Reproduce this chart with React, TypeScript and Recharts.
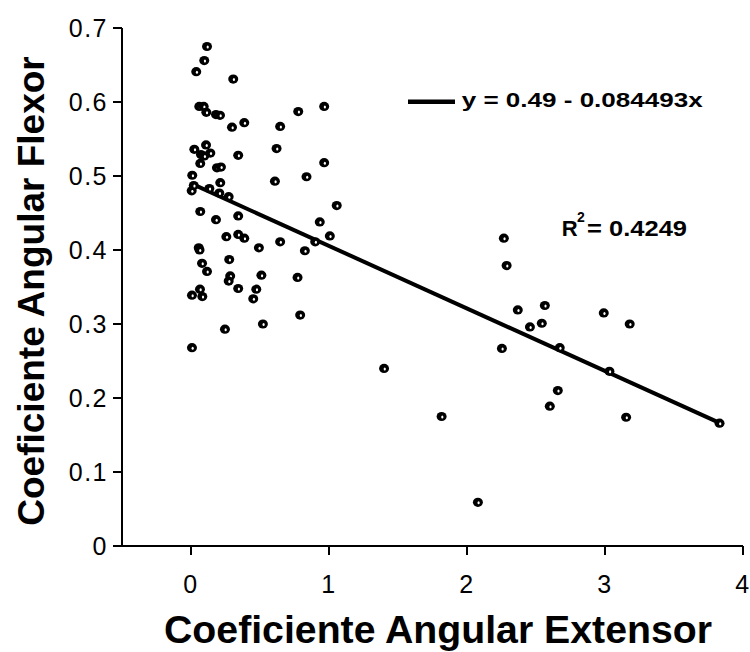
import React from 'react'
import { ScatterChart, Scatter, XAxis, YAxis, ReferenceLine } from 'recharts'

// Coeficiente angular extensor (x) / flexor (y)
const extensorX = [
  0.116, 0.096, 0.038, 0.306, 0.06, 0.092, 0.111, 0.181, 0.21, 0.297,
  0.386, 0.646, 0.777, 0.965, 0.024, 0.109, 0.072, 0.096, 0.14, 0.067,
  0.188, 0.217, 0.342, 0.62, 0.965, 0.009, 0.837, 0.608, 0.005, 0.02,
  0.133, 0.212, 0.205, 0.273, 1.056, 0.067, 0.342, 0.181, 0.933, 1.006,
  0.9, 0.256, 0.342, 0.386, 0.646, 0.492, 0.825, 0.056, 0.062, 0.08,
  0.277, 0.116, 0.284, 0.273, 0.51, 0.772, 0.065, 0.007, 0.082, 0.342,
  0.473, 0.451, 0.791, 0.521, 0.246, 0.007, 1.399, 1.816, 2.267, 2.287,
  2.368, 2.564, 2.456, 2.542, 2.991, 3.179, 2.253, 2.672, 3.032, 2.658,
  2.6, 3.153, 3.83, 2.079,
]
const flexorY = [
  0.675, 0.656, 0.641, 0.631, 0.594, 0.594, 0.586, 0.583, 0.582, 0.566,
  0.572, 0.567, 0.587, 0.594, 0.536, 0.542, 0.529, 0.527, 0.531, 0.517,
  0.511, 0.512, 0.528, 0.537, 0.518, 0.501, 0.499, 0.493, 0.48, 0.487,
  0.483, 0.491, 0.477, 0.472, 0.46, 0.452, 0.446, 0.441, 0.438, 0.419,
  0.411, 0.418, 0.421, 0.416, 0.411, 0.403, 0.399, 0.403, 0.4, 0.382,
  0.387, 0.371, 0.365, 0.358, 0.366, 0.363, 0.347, 0.339, 0.337, 0.348,
  0.347, 0.334, 0.312, 0.3, 0.293, 0.268, 0.24, 0.175, 0.416, 0.379,
  0.319, 0.325, 0.296, 0.301, 0.315, 0.3, 0.267, 0.268, 0.236, 0.21,
  0.189, 0.174, 0.166, 0.059,
]

const xTicks = [0, 1, 2, 3, 4]
const yTicks = [0, 0.1, 0.2, 0.3, 0.4, 0.5, 0.6, 0.7]

// fitted line, as printed on the chart
const INTERCEPT = 0.49
const SLOPE = -0.084493
const fitRange = [0, 3.83]

const points = extensorX.map((x, i) => ({ x, y: flexorY[i] }))

const font = '"Liberation Sans", Arial, sans-serif'

const Dot = (props: any) => {
  const { cx, cy } = props
  if (cx == null || cy == null) return null
  return (
    <g>
      <ellipse cx={cx} cy={cy} rx={5} ry={4.6} fill="#000" />
      <ellipse cx={cx + 0.7} cy={cy + 0.5} rx={1.1} ry={1.5} fill="#fff" />
    </g>
  )
}

const tickStyle = { fill: '#000', fontSize: 25, fontFamily: font, letterSpacing: 1.5 }

export default function App() {
  return (
    <div style={{ position: 'absolute', left: 0, top: 0, width: 750, height: 652, background: '#fff' }}>
      <ScatterChart
        width={750}
        height={652}
        margin={{ top: 28, right: 7, bottom: 66, left: 62 }}
      >
        <XAxis
          type="number"
          dataKey="x"
          domain={[-0.5, 4]}
          ticks={xTicks}
          allowDataOverflow
          height={40}
          tick={tickStyle}
          tickSize={9}
          tickMargin={20}
          axisLine={{ stroke: '#000', strokeWidth: 2 }}
          tickLine={{ stroke: '#000', strokeWidth: 2 }}
        />
        <YAxis
          type="number"
          dataKey="y"
          domain={[0, 0.7]}
          ticks={yTicks}
          allowDataOverflow
          width={60}
          tick={tickStyle}
          tickSize={9}
          tickMargin={5}
          axisLine={{ stroke: '#000', strokeWidth: 2 }}
          tickLine={{ stroke: '#000', strokeWidth: 2 }}
        />
        <ReferenceLine
          segment={[
            { x: fitRange[0], y: INTERCEPT + SLOPE * fitRange[0] },
            { x: fitRange[1], y: INTERCEPT + SLOPE * fitRange[1] },
          ]}
          stroke="#000"
          strokeWidth={4}
          ifOverflow="visible"
        />
        <Scatter data={points} shape={<Dot />} isAnimationActive={false} />
      </ScatterChart>

      {/* legend, r-squared and axis titles */}
      <svg
        width={750}
        height={652}
        style={{ position: 'absolute', left: 0, top: 0, pointerEvents: 'none' }}
        fontFamily={font}
      >
        <line x1={408} y1={101.7} x2={455} y2={101.7} stroke="#000" strokeWidth={4.5} />
        <text x={461.7} y={106.7} fontSize={20} fontWeight="bold" textLength={241} lengthAdjust="spacingAndGlyphs">
          y = 0.49 - 0.084493x
        </text>
        <text x={561.7} y={235.7} fontSize={22} fontWeight="bold">R</text>
        <text x={577} y={222} fontSize={14} fontWeight="bold">2</text>
        <text x={587} y={235.7} fontSize={22} fontWeight="bold" textLength={100} lengthAdjust="spacingAndGlyphs">
          = 0.4249
        </text>
        <text x={438} y={643} fontSize={38} fontWeight="bold" textAnchor="middle" textLength={548} lengthAdjust="spacingAndGlyphs">
          Coeficiente Angular Extensor
        </text>
        <text
          x={0}
          y={0}
          fontSize={37}
          fontWeight="bold"
          textAnchor="middle"
          transform="translate(44 291) rotate(-90)"
        >
          Coeficiente Angular Flexor
        </text>
      </svg>
    </div>
  )
}
